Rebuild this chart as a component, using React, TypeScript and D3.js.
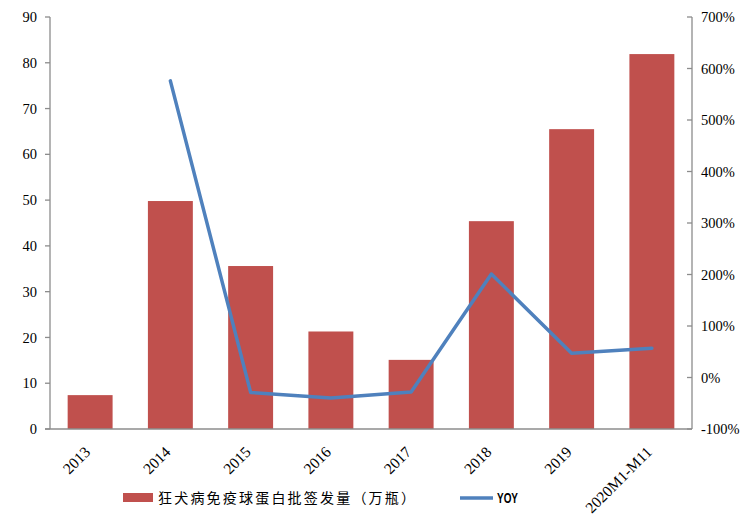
import React from "react";
import * as d3 from "d3";

const categories = ["2013", "2014", "2015", "2016", "2017", "2018", "2019", "2020M1-M11"];
const volumes = [7.4, 49.8, 35.6, 21.3, 15.1, 45.4, 65.5, 81.9];
const yoy: (number | null)[] = [null, 5.76, -0.29, -0.4, -0.28, 2.01, 0.47, 0.57];
const leftTicks = [0, 10, 20, 30, 40, 50, 60, 70, 80, 90];
const rightTicks = [-1, 0, 1, 2, 3, 4, 5, 6, 7];
const barLabel = "狂犬病免疫球蛋白批签发量（万瓶）";
const lineLabel = "YOY";

const W = 750, H = 521;
const L = 50, R = 692, T = 17, B = 429;
const serif = "Liberation Serif, Tinos, Times New Roman, DejaVu Serif, serif";
const axisColor = "#8c8c8c";

export default function App() {
  const x = d3.scaleBand<string>().domain(categories).range([L, R]).paddingInner(0.44).paddingOuter(0.22);
  const yL = d3.scaleLinear().domain([0, 90]).range([B, T]);
  const yR = d3.scaleLinear().domain([-1, 7]).range([B, T]);
  const pts = categories
    .map((c, i) => ({ c, v: yoy[i] }))
    .filter((d) => d.v !== null) as { c: string; v: number }[];
  const line = d3
    .line<{ c: string; v: number }>()
    .x((d) => (x(d.c) as number) + x.bandwidth() / 2)
    .y((d) => yR(d.v));
  const tStyle = { fontFamily: serif, fontSize: 14.5 } as React.CSSProperties;

  return (
    <svg width={W} height={H} style={{ position: "absolute", left: 0, top: 0, background: "#fff" }}>
      {categories.map((c, i) => (
        <rect key={c} x={x(c)} y={yL(volumes[i])} width={x.bandwidth()} height={B - yL(volumes[i])} fill="#C0504D" />
      ))}
      <path d={line(pts) || ""} fill="none" stroke="#4F81BD" strokeWidth={3.5} strokeLinejoin="round" strokeLinecap="round" />
      {/* left axis */}
      <line x1={L} x2={L} y1={T} y2={B} stroke={axisColor} strokeWidth={1.3} />
      {leftTicks.map((t) => (
        <g key={t}>
          <line x1={L - 5} x2={L} y1={yL(t)} y2={yL(t)} stroke={axisColor} strokeWidth={1.3} />
          <text x={37} y={yL(t)} dy="0.35em" textAnchor="end" style={tStyle} fill="#000">{t}</text>
        </g>
      ))}
      {/* right axis */}
      <line x1={R} x2={R} y1={T} y2={B} stroke={axisColor} strokeWidth={1.3} />
      {rightTicks.map((t) => (
        <g key={t}>
          <line x1={R - 5} x2={R} y1={yR(t)} y2={yR(t)} stroke={axisColor} strokeWidth={1.3} />
          <text x={701} y={yR(t)} dy="0.35em" textAnchor="start" style={tStyle} fill="#000">{Math.round(t * 100)}%</text>
        </g>
      ))}
      {/* bottom axis */}
      <line x1={L - 5} x2={R} y1={B} y2={B} stroke={axisColor} strokeWidth={1.5} />
      {categories.map((c) => {
        const cx = (x(c) as number) + x.bandwidth() / 2 + 1;
        return (
          <text key={c} transform={`translate(${cx},453) rotate(-45)`} textAnchor="end" style={{ ...tStyle, fontSize: 15.5 }} fill="#000">{c}</text>
        );
      })}
      {/* legend */}
      <rect x={123} y={493} width={30} height={9} fill="#C0504D" />
      <text x={158} y={498} dy="0.35em" style={{ fontFamily: "Noto Sans CJK SC, sans-serif", fontSize: 14, letterSpacing: 2.2 }} fill="#000">{barLabel}</text>
      <line x1={460} x2={493} y1={498} y2={498} stroke="#4F81BD" strokeWidth={3.5} />
      <text x={497} y={498} dy="0.36em" textLength={21} lengthAdjust="spacingAndGlyphs" style={{ fontFamily: "Liberation Sans, Arial, sans-serif", fontWeight: "bold", fontSize: 15 }} fill="#000">{lineLabel}</text>
    </svg>
  );
}
